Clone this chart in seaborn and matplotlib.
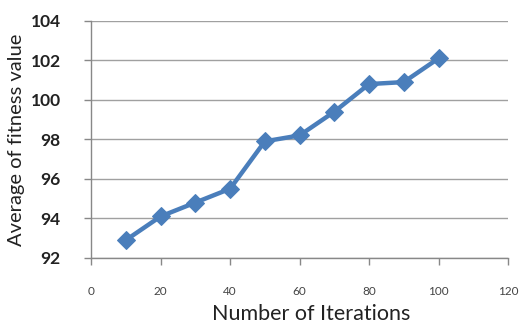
import matplotlib
matplotlib.use("Agg")
import matplotlib.pyplot as plt
import seaborn as sns
import pandas as pd

# data
iterations = [10, 20, 30, 40, 50, 60, 70, 80, 90, 100]
fitness = [92.9, 94.1, 94.8, 95.5, 97.9, 98.2, 99.4, 100.8, 100.9, 102.1]
x_ticks = [0, 20, 40, 60, 80, 100, 120]
y_ticks = [92, 94, 96, 98, 100, 102, 104]

df = pd.DataFrame({"iter": iterations, "fitness": fitness})

sns.set_style("white")
plt.rcParams["font.family"] = ["Lato", "DejaVu Sans"]

fig = plt.figure(figsize=(5.21, 3.26), dpi=100)
ax = fig.add_axes([0.175, 0.209, 0.80, 0.727])

sns.lineplot(data=df, x="iter", y="fitness", ax=ax, color="#4A7EBB",
             linewidth=3.2, marker="D", markersize=9, markeredgecolor="#4A7EBB")

ax.set_xlim(0, 120)
ax.set_ylim(92, 104)
ax.set_xticks(x_ticks)
ax.set_yticks(y_ticks)
ax.set_xticklabels([str(t) for t in x_ticks], fontsize=8.5, color="#444444")
ax.set_yticklabels([str(t) for t in y_ticks], fontsize=12.5, fontweight="bold",
                   color="#222222")

ax.yaxis.grid(True, color="#A0A0A0", linewidth=1)
ax.set_axisbelow(True)
for s in ["top", "right"]:
    ax.spines[s].set_visible(False)
for s in ["left", "bottom"]:
    ax.spines[s].set_color("#888888")
    ax.spines[s].set_linewidth(1)
ax.tick_params(axis="both", direction="out", length=5, color="#888888",
               width=1, left=True, bottom=True)
ax.tick_params(axis="x", pad=15)
ax.tick_params(axis="y", pad=17)

ax.set_xlabel("Number of Iterations", fontsize=15.5, color="#222222")
ax.xaxis.set_label_coords(0.528, -0.195)
ax.set_ylabel("Average of fitness value", fontsize=14.5, color="#222222", labelpad=4)

fig.savefig("out.png", dpi=100)
